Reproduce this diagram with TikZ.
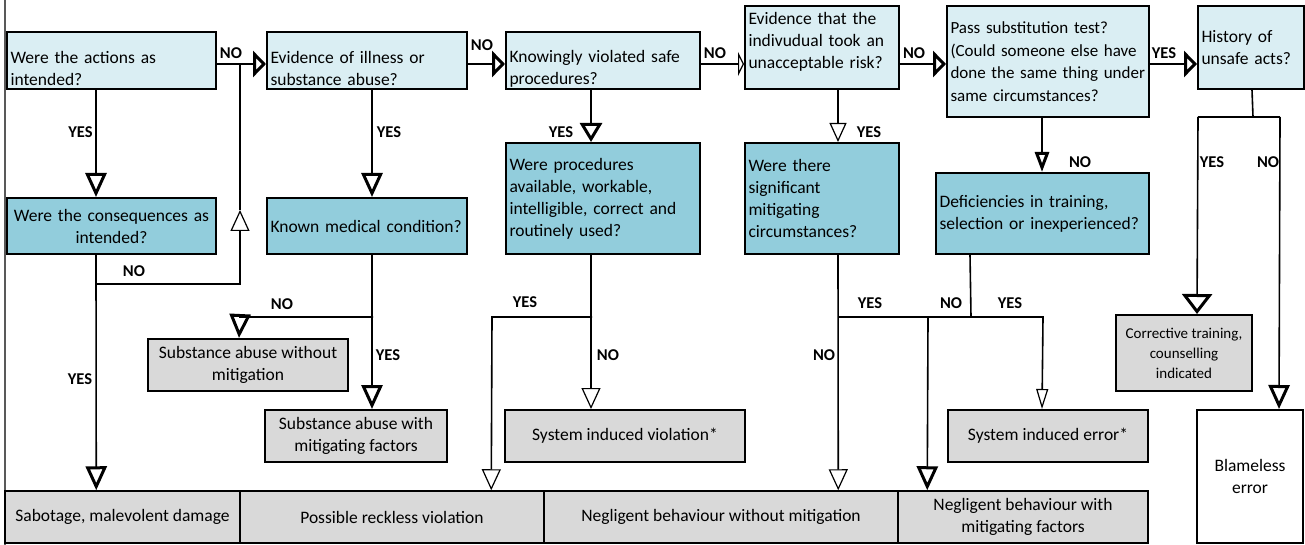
\documentclass[tikz,border=0pt]{standalone}
\usepackage{fontspec}
\setmainfont{Carlito}
\usetikzlibrary{arrows.meta,calc}
\definecolor{qlight}{HTML}{DAEEF3}
\definecolor{qdark}{HTML}{92CDDC}
\definecolor{ogray}{HTML}{D9D9D9}
\hyphenpenalty=10000
\exhyphenpenalty=10000
\tikzset{
  boxbase/.style={draw=black, line width=2pt, inner xsep=3.5pt, inner ysep=0pt,
    font=\fontsize{17.5}{22}\selectfont},
  qsize/.code 2 args={\pgfmathsetlengthmacro\qtw{#1pt-7pt}%
    \edef\qopts{minimum width=#1pt, minimum height=#2pt, text width=\qtw}%
    \expandafter\pgfkeysalso\expandafter{\qopts}},
  osize/.style 2 args={minimum width=#1pt, minimum height=#2pt},
  ques/.style={boxbase, fill=qlight, align=left},
  deep/.style={boxbase, fill=qdark, align=left},
  outc/.style={boxbase, fill=ogray, align=center},
  lbl/.style={font=\fontsize{16.5}{18}\selectfont\bfseries, inner sep=0pt},
  wire/.style={line width=1.6pt},
  hthick/.style={-{Triangle[open,length=13pt,width=26pt,line width=3pt]}},
  vthick/.style={-{Triangle[open,length=24pt,width=21pt,line width=3pt]}},
  vsmall/.style={-{Triangle[open,length=20pt,width=14pt,line width=3pt]}},
  vthin/.style={-{Triangle[open,length=21pt,width=19pt,line width=1.2pt]}},
  hthin/.style={-{Triangle[open,length=6pt,width=24pt,line width=1.2pt]}},
}
\begin{document}
\begin{tikzpicture}[x=1pt,y=-1pt]
\useasboundingbox (0,0) rectangle (1305,545);
\fill[white] (0,0) rectangle (1305,545);
\draw[line width=1.5pt, black!65] (5,0) -- (5,545);

% question boxes, top row
\node[ques, qsize={209}{57}] (A) at (111.5,60.5) {\mbox{}\\[6pt]Were the actions as\\intended?};
\node[ques, qsize={200}{57}] (B) at (367,60.5) {\mbox{}\\[6pt]Evidence of illness or\\substance abuse?};
\node[ques, qsize={194}{57}] (C) at (603,60.5) {\mbox{}\\[6pt]Knowingly violated safe\\procedures?};
\node[ques, qsize={154}{83}] (D) at (822,47.5) {Evidence that the\\indivudual took an\\unacceptable risk?\\[-8pt]\mbox{}};
\node[ques, qsize={202}{111}, font=\fontsize{17}{22.5}\selectfont] (E) at (1048,61.5) {Pass substitution test?\\(Could someone else have\\\mbox{done the same thing under}\\same circumstances?};
\node[ques, qsize={106}{83}] (F) at (1251,47.5) {History of\\unsafe acts?};

% follow-up questions
\node[deep, align=center, qsize={209}{56}] (A2) at (111.5,226) {Were the consequences as\\intended?};
\node[deep, qsize={200}{56}] (B2) at (367,226) {\mbox{Known medical condition?}};
\node[deep, qsize={194}{111}] (C2) at (603,198.5) {Were procedures\\available, workable,\\intelligible, correct and\\routinely used?};
\node[deep, qsize={154}{111}] (D2) at (822,198.5) {Were there\\significant\\mitigating\\circumstances?};
\node[deep, qsize={213}{81}] (E2) at (1042.5,213.5) {Deficiencies in training,\\\mbox{selection or inexperienced?}};

% outcomes
\node[outc, osize={200}{52}] (SAwo) at (248,365) {Substance abuse without\\mitigation};
\node[outc, osize={182}{52}] (SAw) at (356,436) {Substance abuse with\\mitigating factors};
\node[outc, osize={240}{52}] (SIV) at (625,436) {System induced violation*};
\node[outc, osize={200}{52}] (SIE) at (1048,436) {System induced error*};
\node[outc, osize={136}{76}, font=\fontsize{15}{20}\selectfont] (CT) at (1184,353) {Corrective training,\\counselling\\indicated};
\node[outc, fill=white, osize={106}{133}] (BE) at (1250,476.5) {Blameless\\error};
\node[outc, line width=1.5pt, osize={235}{52}] (SAB) at (122.5,517) {Sabotage, malevolent damage};
\node[outc, line width=1.5pt, osize={304}{52}] (PRV) at (392,517) {Possible reckless violation};
\node[outc, line width=1.5pt, osize={354}{52}] (NBW) at (721,517) {Negligent behaviour without mitigation};
\node[outc, line width=1.5pt, osize={250}{52}] (NBM) at (1023,517) {Negligent behaviour with\\mitigating factors};

% junction points
\coordinate (amerge) at (240,64);
\coordinate (a2fork) at (97,284);
\coordinate (aret) at (240,284);
\coordinate (aup) at (240,210);
\coordinate (b2fork) at (373,317);
\coordinate (b2left) at (240,317);
\coordinate (c2fork) at (592,317);
\coordinate (c2left) at (492,317);
\coordinate (d2fork) at (839,317);
\coordinate (ejoin) at (928,317);
\coordinate (e2fork) at (971,317);
\coordinate (e2right) at (1043,317);
\coordinate (ffork) at (1253,117);
\coordinate (fleft) at (1198,117);
\coordinate (fright) at (1280,117);

% main NO / YES chain along the top
\draw[wire, hthick] (A.east |- amerge) -- (B.west |- amerge);
\draw[wire, hthick] (B.east |- amerge) -- (C.west |- amerge);
\draw[wire, hthin] (C.east |- amerge) -- (D.west |- amerge);
\draw[wire, hthick] (D.east |- amerge) -- (E.west |- amerge);
\draw[wire, hthick] (E.east |- amerge) -- (F.west |- amerge);

% actions as intended
\draw[wire, vthick] ([xshift=90pt]A.south west) -- ([xshift=90pt]A2.north west);
\draw[wire, vthick] ([xshift=90pt]A2.south west) -- ([xshift=92pt]SAB.north west);
\draw[wire, vthin] (a2fork) -- (aret) -- (aup);
\draw[wire] (aup) -- (amerge);

% illness or substance abuse
\draw[wire, vthick] ([xshift=106pt]B.south west) -- ([xshift=106pt]B2.north west);
\draw[wire, vthick] ([xshift=106pt]B2.south west) -- ([xshift=108pt]SAw.north west);
\draw[wire, vthick] (b2fork) -- (b2left) -- ([xshift=92pt]SAwo.north west);

% procedures
\draw[wire, -{Triangle[open,length=19pt,width=22pt,line width=3pt]}] ([xshift=86pt]C.south west) -- ([xshift=86pt]C2.north west);
\draw[wire, vthin] ([xshift=86pt]C2.south west) -- ([xshift=87pt]SIV.north west);
\draw[wire, vthin] (c2fork) -- (c2left) -- ([xshift=252pt]PRV.north west);

% unacceptable risk
\draw[wire, -{Triangle[open,length=19pt,width=17pt,line width=1.2pt]}] ([xshift=94pt]D.south west) -- ([xshift=94pt]D2.north west);
\draw[wire, vthin] ([xshift=94pt]D2.south west) -- ([xshift=295pt]NBW.north west);
\draw[wire, vthick] (d2fork) -- (ejoin) -- ([xshift=30pt]NBM.north west);

% substitution test
\draw[wire, vsmall] ([xshift=96pt]E.south west) -- ([xshift=107pt]E2.north west);
\draw[wire] ([xshift=35pt]E2.south west) -- (e2fork) -- (ejoin);
\draw[wire, -{Triangle[open,length=20pt,width=12pt,line width=1.2pt]}] (e2fork) -- (e2right) -- ([xshift=95pt]SIE.north west);

% history of unsafe acts
\draw[wire] ([xshift=55pt]F.south west) -- (ffork);
\draw[wire] (fleft) -- (fright);
\draw[wire, -{Triangle[open,length=20pt,width=30pt,line width=3pt]}] (fleft) -- ([xshift=82pt]CT.north west);
\draw[wire, vthick] (fright) -- ([xshift=83pt]BE.north west);

% branch labels
\node[lbl] (lab1) at (231,53) {NO};
\node[lbl] (lab2) at (80.5,132) {YES};
\node[lbl] (lab3) at (134,271) {NO};
\node[lbl] (lab4) at (80,379) {YES};
\node[lbl] (lab5) at (482,45) {NO};
\node[lbl] (lab6) at (389,132) {YES};
\node[lbl] (lab7) at (282,304) {NO};
\node[lbl] (lab8) at (388,355) {YES};
\node[lbl] (lab9) at (715,53) {NO};
\node[lbl] (lab10) at (561,132) {YES};
\node[lbl] (lab11) at (525,302) {YES};
\node[lbl] (lab12) at (608,355) {NO};
\node[lbl] (lab13) at (914,53) {NO};
\node[lbl] (lab14) at (869,132) {YES};
\node[lbl] (lab15) at (870,303) {YES};
\node[lbl] (lab16) at (824,355) {NO};
\node[lbl] (lab17) at (1164,53) {YES};
\node[lbl] (lab18) at (1080,162) {NO};
\node[lbl] (lab19) at (951,303) {NO};
\node[lbl] (lab20) at (1010,303) {YES};
\node[lbl] (lab21) at (1212,162) {YES};
\node[lbl] (lab22) at (1268,162) {NO};
\end{tikzpicture}
\end{document}
